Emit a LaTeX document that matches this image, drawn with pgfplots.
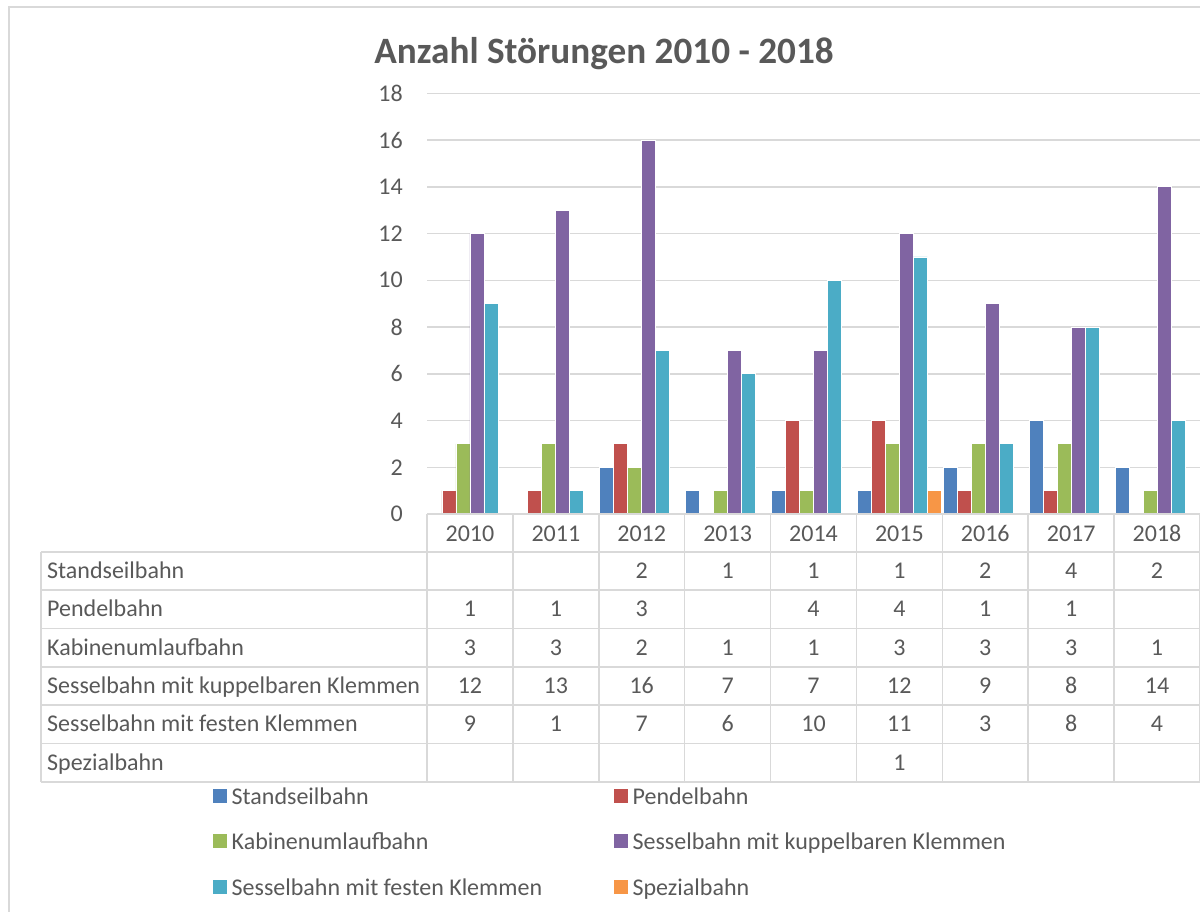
\documentclass[border=0pt]{standalone}
\usepackage{pgfplots}
\pgfplotsset{compat=1.18}
\usepackage{fontspec}
\setmainfont{Carlito}
\definecolor{cA}{HTML}{4F81BD}
\definecolor{cB}{HTML}{C0504D}
\definecolor{cC}{HTML}{9BBB59}
\definecolor{cD}{HTML}{8064A2}
\definecolor{cE}{HTML}{4BACC6}
\definecolor{cF}{HTML}{F79646}
\definecolor{txt}{HTML}{595959}
\definecolor{gridc}{HTML}{D9D9D9}
\newcommand{\fs}{\fontsize{24}{28}\selectfont}
\begin{document}
\begin{tikzpicture}
\useasboundingbox (0pt,0pt) rectangle (1200pt,-912pt);
\draw[gridc, line width=2pt] (9pt,-7pt) rectangle (1230pt,-940pt);
\node[font=\fontsize{37.2}{40}\selectfont\bfseries, text=txt, anchor=base] at (604pt,-63.3pt) {Anzahl Störungen 2010 - 2018};
\begin{axis}[
  at={(427pt,-514pt)}, anchor=south west,
  scale only axis, width=773pt, height=420.7pt,
  xmin=-0.5, xmax=8.5, ymin=0, ymax=18,
  ytick={0,2,...,18},
  xtick={0,...,8},
  xticklabels={2010,2011,2012,2013,2014,2015,2016,2017,2018},
  ymajorgrids, grid style={gridc, line width=1.5pt},
  axis line style={draw=none},
  major tick length=0pt,
  tick label style={font=\fs, text=txt},
  yticklabel style={inner sep=0pt, xshift=-24pt},
  xticklabel style={anchor=center, yshift=-19.7pt, inner sep=0pt},
  /pgf/number format/assume math mode=true,
  ybar=0pt, bar width=14pt,
  every axis plot/.append style={draw=white, line width=0.8pt},
  every axis plot post/.append style={legend image code/.code={\fill[#1,draw=none] (0pt,-4pt) rectangle (14pt,10pt);}},
  legend columns=2,
  legend cell align=left,
  legend style={at={(-0.27685,-0.6496)}, anchor=north west, draw=none, fill=none,
    font=\fs, text=txt, inner sep=0pt, row sep=22.5pt,
    nodes={inner sep=0pt, text height=17pt, text depth=6pt},
    /tikz/every odd column/.append style={column sep=4.5pt},
    /tikz/every even column/.append style={column sep=72pt}},
  clip=false,
]
\addplot[fill=cA] coordinates {(2,2) (3,1) (4,1) (5,1) (6,2) (7,4) (8,2)};
\addplot[fill=cB] coordinates {(0,1) (1,1) (2,3) (4,4) (5,4) (6,1) (7,1)};
\addplot[fill=cC] coordinates {(0,3) (1,3) (2,2) (3,1) (4,1) (5,3) (6,3) (7,3) (8,1)};
\addplot[fill=cD] coordinates {(0,12) (1,13) (2,16) (3,7) (4,7) (5,12) (6,9) (7,8) (8,14)};
\addplot[fill=cE] coordinates {(0,9) (1,1) (2,7) (3,6) (4,10) (5,11) (6,3) (7,8) (8,4)};
\addplot[fill=cF] coordinates {(5,1)};
\legend{Standseilbahn, Pendelbahn, Kabinenumlaufbahn, Sesselbahn mit kuppelbaren Klemmen, Sesselbahn mit festen Klemmen, Spezialbahn}
\end{axis}
\begin{scope}[x=1pt, y=-1pt]
  % table lines
  \draw[gridc, line width=1.6pt] (427,514) -- (1200,514);
  \foreach \yy in {551.7,590,628.3,666.7,705,743.3,781.7}
    \draw[gridc, line width=1.6pt] (41,\yy) -- (1200,\yy);
  \draw[gridc, line width=1.6pt] (41,551.7) -- (41,781.7);
  \foreach \k in {0,...,9}
    \draw[gridc, line width=1.6pt] ({427+85.889*\k},514) -- ({427+85.889*\k},781.7);
  % row labels
  \foreach \name [count=\r from 0] in {Standseilbahn, Pendelbahn, Kabinenumlaufbahn, Sesselbahn mit kuppelbaren Klemmen, Sesselbahn mit festen Klemmen, Spezialbahn}
    \node[anchor=base west, inner sep=0pt, font=\fs, text=txt] at (47,{578.6+38.33*\r}) {\name};
  % values
  \foreach \i/\v in {2/2,3/1,4/1,5/1,6/2,7/4,8/2}
    \node[anchor=base, inner sep=0pt, font=\fs, text=txt] at ({469.94+85.889*\i},578.6) {\v};
  \foreach \i/\v in {0/1,1/1,2/3,4/4,5/4,6/1,7/1}
    \node[anchor=base, inner sep=0pt, font=\fs, text=txt] at ({469.94+85.889*\i},616.93) {\v};
  \foreach \i/\v in {0/3,1/3,2/2,3/1,4/1,5/3,6/3,7/3,8/1}
    \node[anchor=base, inner sep=0pt, font=\fs, text=txt] at ({469.94+85.889*\i},655.26) {\v};
  \foreach \i/\v in {0/12,1/13,2/16,3/7,4/7,5/12,6/9,7/8,8/14}
    \node[anchor=base, inner sep=0pt, font=\fs, text=txt] at ({469.94+85.889*\i},693.59) {\v};
  \foreach \i/\v in {0/9,1/1,2/7,3/6,4/10,5/11,6/3,7/8,8/4}
    \node[anchor=base, inner sep=0pt, font=\fs, text=txt] at ({469.94+85.889*\i},731.92) {\v};
  \foreach \i/\v in {5/1}
    \node[anchor=base, inner sep=0pt, font=\fs, text=txt] at ({469.94+85.889*\i},770.25) {\v};
\end{scope}
\end{tikzpicture}
\end{document}
